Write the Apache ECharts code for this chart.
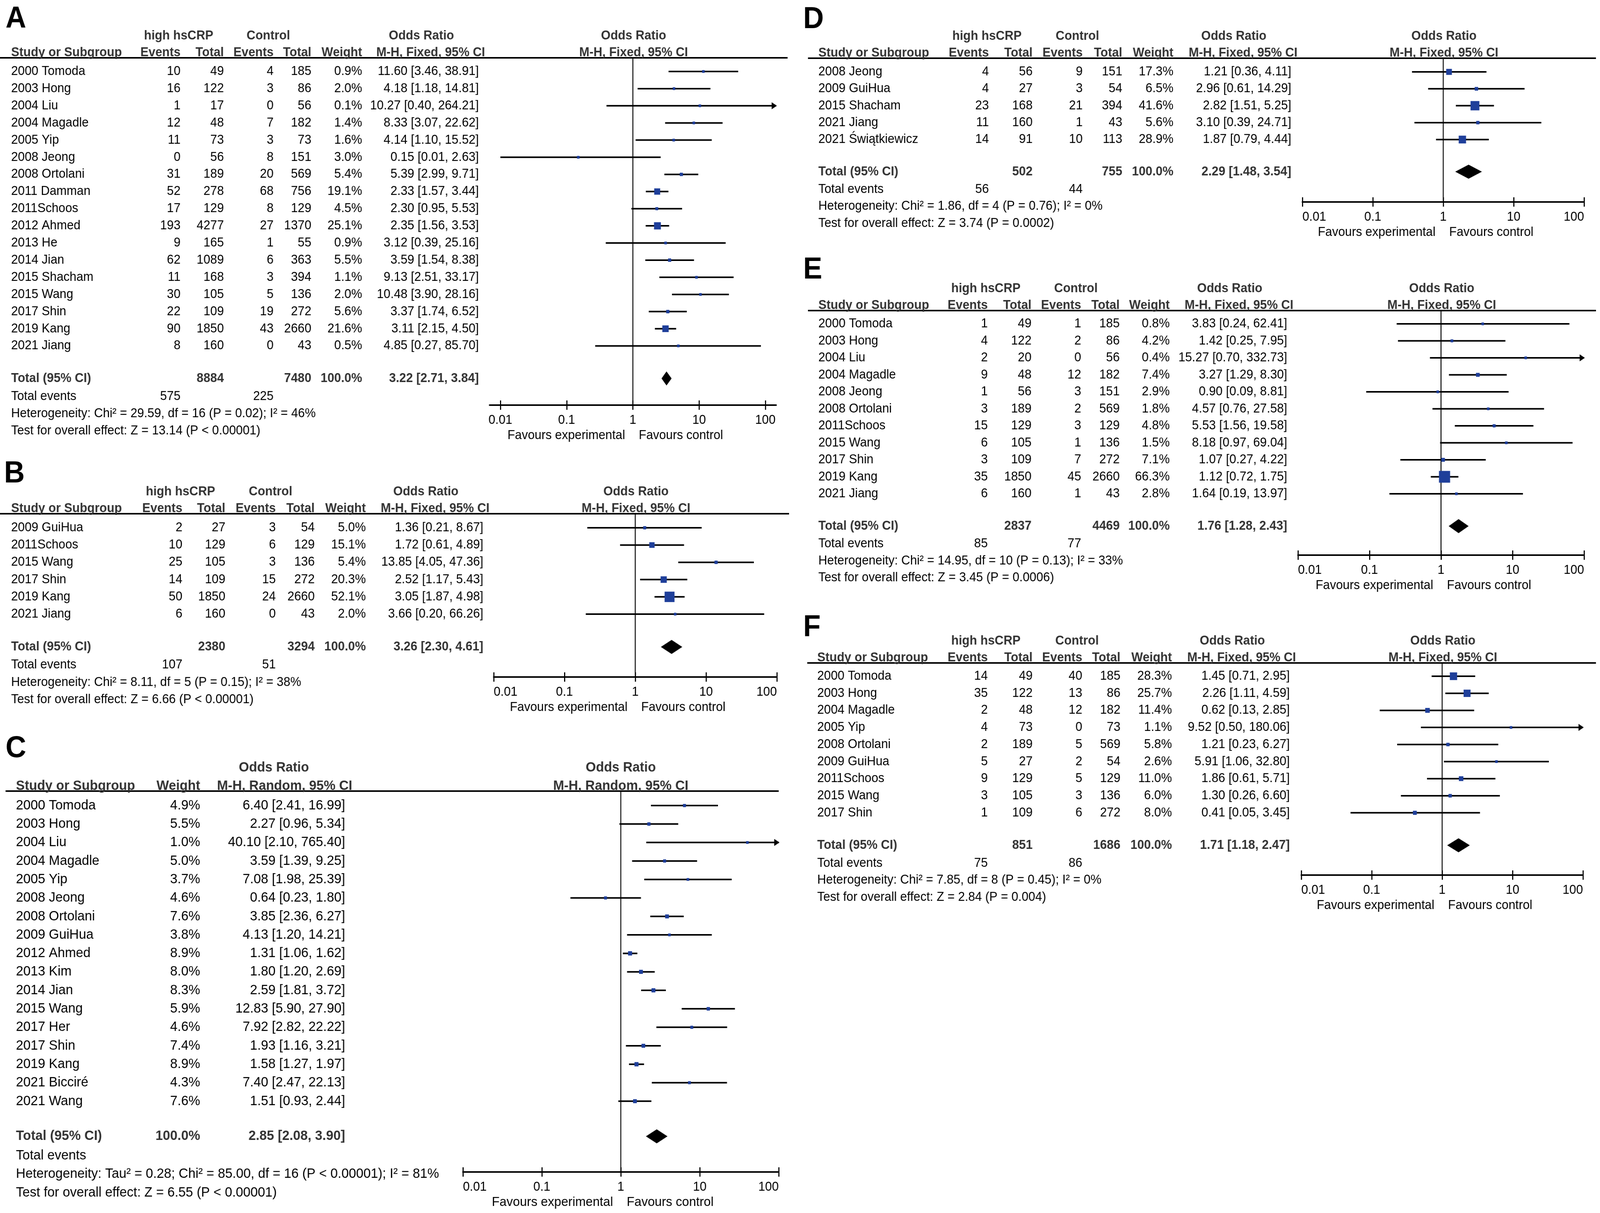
<!DOCTYPE html>
<html>
<head>
<meta charset="utf-8">
<script src="https://cdn.jsdelivr.net/npm/echarts@6/dist/echarts.min.js"></script>
<style>
html,body{margin:0;padding:0;background:#fff;overflow:hidden;}
#c{position:absolute;left:0;top:0;width:4317px;height:3105px;transform-origin:0 0;}
</style>
</head>
<body>
<div id="c"></div>
<script>
// ================= DATA =================
const tickValues = [0.01, 0.1, 1, 10, 100];
const tickLabels = ['0.01', '0.1', '1', '10', '100'];
const totalWeightLabel = '100.0%';

// ---- Panel A ----
const A_studies = ['2000 Tomoda','2003 Hong','2004 Liu','2004 Magadle','2005 Yip','2008 Jeong','2008 Ortolani','2011 Damman','2011Schoos','2012 Ahmed','2013 He','2014 Jian','2015 Shacham','2015 Wang','2017 Shin','2019 Kang','2021 Jiang'];
const A_ev1 = [10,16,1,12,11,0,31,52,17,193,9,62,11,30,22,90,8];
const A_tot1 = [49,122,17,48,73,56,189,278,129,4277,165,1089,168,105,109,1850,160];
const A_ev2 = [4,3,0,7,3,8,20,68,8,27,1,6,3,5,19,43,0];
const A_tot2 = [185,86,56,182,73,151,569,756,129,1370,55,363,394,136,272,2660,43];
const A_weight = [0.9,2.0,0.1,1.4,1.6,3.0,5.4,19.1,4.5,25.1,0.9,5.5,1.1,2.0,5.6,21.6,0.5];
const A_or = [11.60,4.18,10.27,8.33,4.14,0.15,5.39,2.33,2.30,2.35,3.12,3.59,9.13,10.48,3.37,3.11,4.85];
const A_lo = [3.46,1.18,0.40,3.07,1.10,0.01,2.99,1.57,0.95,1.56,0.39,1.54,2.51,3.90,1.74,2.15,0.27];
const A_hi = [38.91,14.81,264.21,22.62,15.52,2.63,9.71,3.44,5.53,3.53,25.16,8.38,33.17,28.16,6.52,4.50,85.70];
const A_totals = [8884, 7480];
const A_events = [575, 225];
const A_pooled = [3.22, 2.71, 3.84];
const A_het = 'Heterogeneity: Chi² = 29.59, df = 16 (P = 0.02); I² = 46%';
const A_test = 'Test for overall effect: Z = 13.14 (P < 0.00001)';

// ---- Panel B ----
const B_studies = ['2009 GuiHua','2011Schoos','2015 Wang','2017 Shin','2019 Kang','2021 Jiang'];
const B_ev1 = [2,10,25,14,50,6];
const B_tot1 = [27,129,105,109,1850,160];
const B_ev2 = [3,6,3,15,24,0];
const B_tot2 = [54,129,136,272,2660,43];
const B_weight = [5.0,15.1,5.4,20.3,52.1,2.0];
const B_or = [1.36,1.72,13.85,2.52,3.05,3.66];
const B_lo = [0.21,0.61,4.05,1.17,1.87,0.20];
const B_hi = [8.67,4.89,47.36,5.43,4.98,66.26];
const B_totals = [2380, 3294];
const B_events = [107, 51];
const B_pooled = [3.26, 2.30, 4.61];
const B_het = 'Heterogeneity: Chi² = 8.11, df = 5 (P = 0.15); I² = 38%';
const B_test = 'Test for overall effect: Z = 6.66 (P < 0.00001)';

// ---- Panel C ----
const C_studies = ['2000 Tomoda','2003 Hong','2004 Liu','2004 Magadle','2005 Yip','2008 Jeong','2008 Ortolani','2009 GuiHua','2012 Ahmed','2013 Kim','2014 Jian','2015 Wang','2017 Her','2017 Shin','2019 Kang','2021 Bicciré','2021 Wang'];
const C_weight = [4.9,5.5,1.0,5.0,3.7,4.6,7.6,3.8,8.9,8.0,8.3,5.9,4.6,7.4,8.9,4.3,7.6];
const C_or = [6.40,2.27,40.10,3.59,7.08,0.64,3.85,4.13,1.31,1.80,2.59,12.83,7.92,1.93,1.58,7.40,1.51];
const C_lo = [2.41,0.96,2.10,1.39,1.98,0.23,2.36,1.20,1.06,1.20,1.81,5.90,2.82,1.16,1.27,2.47,0.93];
const C_hi = [16.99,5.34,765.40,9.25,25.39,1.80,6.27,14.21,1.62,2.69,3.72,27.90,22.22,3.21,1.97,22.13,2.44];
const C_pooled = [2.85, 2.08, 3.90];
const C_het = 'Heterogeneity: Tau² = 0.28; Chi² = 85.00, df = 16 (P < 0.00001); I² = 81%';
const C_test = 'Test for overall effect: Z = 6.55 (P < 0.00001)';

// ---- Panel D ----
const D_studies = ['2008 Jeong','2009 GuiHua','2015 Shacham','2021 Jiang','2021 Świątkiewicz'];
const D_ev1 = [4,4,23,11,14];
const D_tot1 = [56,27,168,160,91];
const D_ev2 = [9,3,21,1,10];
const D_tot2 = [151,54,394,43,113];
const D_weight = [17.3,6.5,41.6,5.6,28.9];
const D_or = [1.21,2.96,2.82,3.10,1.87];
const D_lo = [0.36,0.61,1.51,0.39,0.79];
const D_hi = [4.11,14.29,5.25,24.71,4.44];
const D_totals = [502, 755];
const D_events = [56, 44];
const D_pooled = [2.29, 1.48, 3.54];
const D_het = 'Heterogeneity: Chi² = 1.86, df = 4 (P = 0.76); I² = 0%';
const D_test = 'Test for overall effect: Z = 3.74 (P = 0.0002)';

// ---- Panel E ----
const E_studies = ['2000 Tomoda','2003 Hong','2004 Liu','2004 Magadle','2008 Jeong','2008 Ortolani','2011Schoos','2015 Wang','2017 Shin','2019 Kang','2021 Jiang'];
const E_ev1 = [1,4,2,9,1,3,15,6,3,35,6];
const E_tot1 = [49,122,20,48,56,189,129,105,109,1850,160];
const E_ev2 = [1,2,0,12,3,2,3,1,7,45,1];
const E_tot2 = [185,86,56,182,151,569,129,136,272,2660,43];
const E_weight = [0.8,4.2,0.4,7.4,2.9,1.8,4.8,1.5,7.1,66.3,2.8];
const E_or = [3.83,1.42,15.27,3.27,0.90,4.57,5.53,8.18,1.07,1.12,1.64];
const E_lo = [0.24,0.25,0.70,1.29,0.09,0.76,1.56,0.97,0.27,0.72,0.19];
const E_hi = [62.41,7.95,332.73,8.30,8.81,27.58,19.58,69.04,4.22,1.75,13.97];
const E_totals = [2837, 4469];
const E_events = [85, 77];
const E_pooled = [1.76, 1.28, 2.43];
const E_het = 'Heterogeneity: Chi² = 14.95, df = 10 (P = 0.13); I² = 33%';
const E_test = 'Test for overall effect: Z = 3.45 (P = 0.0006)';

// ---- Panel F ----
const F_studies = ['2000 Tomoda','2003 Hong','2004 Magadle','2005 Yip','2008 Ortolani','2009 GuiHua','2011Schoos','2015 Wang','2017 Shin'];
const F_ev1 = [14,35,2,4,2,5,9,3,1];
const F_tot1 = [49,122,48,73,189,27,129,105,109];
const F_ev2 = [40,13,12,0,5,2,5,3,6];
const F_tot2 = [185,86,182,73,569,54,129,136,272];
const F_weight = [28.3,25.7,11.4,1.1,5.8,2.6,11.0,6.0,8.0];
const F_or = [1.45,2.26,0.62,9.52,1.21,5.91,1.86,1.30,0.41];
const F_lo = [0.71,1.11,0.13,0.50,0.23,1.06,0.61,0.26,0.05];
const F_hi = [2.95,4.59,2.85,180.06,6.27,32.80,5.71,6.60,3.45];
const F_totals = [851, 1686];
const F_events = [75, 86];
const F_pooled = [1.71, 1.18, 2.47];
const F_het = 'Heterogeneity: Chi² = 7.85, df = 8 (P = 0.45); I² = 0%';
const F_test = 'Test for overall effect: Z = 2.84 (P = 0.004)';

// ================= LAYOUT / STYLE =================
const PAGE_W = 4317, PAGE_H = 3105;
const FONT = '"Liberation Sans", Arial, Helvetica, sans-serif';
const BLUE = '#1f3f9a';
const HEAD = '#333';

const layouts = {
  A:{letter:[15,50], studyX:30, cols:[487,604,738,840,977,1292], lineY:148, lineX:[0,2125], y0:183, step:43.9, axisY:1037, x001:1350, x100:2065, pad:29, fs:33, h1:56},
  B:{letter:[11,1214], studyX:30, cols:[492,608,744,849,987,1304], lineY:1315, lineX:[0,2129], y0:1351, step:44.2, axisY:1733, x001:1332, x100:2096, pad:0, fs:33, h1:56},
  C:{letter:[15,1917], studyX:43, wtX:540, orX:931, lineY:2025, lineX:[15,2101], y0:2062, step:47.3, axisY:3000, x001:1249, x100:2101, pad:0, fs:35.5, h1:60},
  D:{letter:[2167,51], studyX:2208, cols:[2668,2786,2921,3028,3166,3484], lineY:149, lineX:[2180,4306], y0:184, step:43.3, axisY:517, x001:3514, x100:4274, pad:0, fs:33, h1:56},
  E:{letter:[2167,692], studyX:2208, cols:[2665,2783,2917,3021,3156,3473], lineY:795, lineX:[2180,4306], y0:829, step:43.5, axisY:1421, x001:3502, x100:4274, pad:0, fs:33, h1:56},
  F:{letter:[2167,1608], studyX:2205, cols:[2665,2786,2920,3023,3162,3480], lineY:1697, lineX:[2178,4306], y0:1731, step:43.7, axisY:2240, x001:3511, x100:4271, pad:0, fs:33, h1:56}
};

const panels = [
  {key:'A', kind:'fixed', studies:A_studies, ev1:A_ev1, tot1:A_tot1, ev2:A_ev2, tot2:A_tot2, weight:A_weight, or:A_or, lo:A_lo, hi:A_hi, totals:A_totals, events:A_events, pooled:A_pooled, het:A_het, test:A_test},
  {key:'B', kind:'fixed', studies:B_studies, ev1:B_ev1, tot1:B_tot1, ev2:B_ev2, tot2:B_tot2, weight:B_weight, or:B_or, lo:B_lo, hi:B_hi, totals:B_totals, events:B_events, pooled:B_pooled, het:B_het, test:B_test},
  {key:'C', kind:'random', studies:C_studies, weight:C_weight, or:C_or, lo:C_lo, hi:C_hi, pooled:C_pooled, het:C_het, test:C_test},
  {key:'D', kind:'fixed', studies:D_studies, ev1:D_ev1, tot1:D_tot1, ev2:D_ev2, tot2:D_tot2, weight:D_weight, or:D_or, lo:D_lo, hi:D_hi, totals:D_totals, events:D_events, pooled:D_pooled, het:D_het, test:D_test},
  {key:'E', kind:'fixed', studies:E_studies, ev1:E_ev1, tot1:E_tot1, ev2:E_ev2, tot2:E_tot2, weight:E_weight, or:E_or, lo:E_lo, hi:E_hi, totals:E_totals, events:E_events, pooled:E_pooled, het:E_het, test:E_test},
  {key:'F', kind:'fixed', studies:F_studies, ev1:F_ev1, tot1:F_tot1, ev2:F_ev2, tot2:F_tot2, weight:F_weight, or:F_or, lo:F_lo, hi:F_hi, totals:F_totals, events:F_events, pooled:F_pooled, het:F_het, test:F_test}
];

const TOTAL_GAP = 1.9;      // rows between last study and the Total row
const FOOT_OFFS = [1.05, 2.05, 3.05];

// fit the fixed-size figure into whatever viewport the page is opened in
(function fit() {
  let W = window.innerWidth || document.documentElement.clientWidth || PAGE_W;
  let H = window.innerHeight || document.documentElement.clientHeight || PAGE_H;
  if (W < 200) W = PAGE_W;
  if (H < 200) H = PAGE_H;
  document.getElementById('c').style.transform = 'scale(' + (W / PAGE_W) + ',' + (H / PAGE_H) + ')';
})();

// ================= HELPERS =================
function txt(x, y, s, align, bold, fs, color) {
  return {type:'text', silent:true, style:{x:x, y:y, text:String(s), align:align, verticalAlign:'middle',
    font:(bold ? 'bold ' : '') + fs + 'px ' + FONT, fill: color || (bold ? HEAD : '#000')}};
}
function fmtCI(o, l, h) { return o.toFixed(2) + ' [' + l.toFixed(2) + ', ' + h.toFixed(2) + ']'; }
function tickFmt(v) {
  let best = 0, bd = 1e9;
  tickValues.forEach((t, k) => { const d = Math.abs(Math.log10(t) - Math.log10(v)); if (d < bd) { bd = d; best = k; } });
  return tickLabels[best];
}

function rowRender(p, L) {
  return function (params, api) {
    const i = params.dataIndex;
    const cs = params.coordSys;
    const left = cs.x, right = cs.x + cs.width;
    const pt = api.coord([api.value(0), api.value(1)]);
    const y = pt[1];
    const xl = api.coord([api.value(2), api.value(1)])[0];
    const xh = api.coord([api.value(3), api.value(1)])[0];
    const fs = L.fs;
    const ch = [];
    ch.push(txt(L.studyX, y, p.studies[i], 'left', false, fs));
    if (p.kind === 'fixed') {
      ch.push(txt(L.cols[0], y, p.ev1[i], 'right', false, fs));
      ch.push(txt(L.cols[1], y, p.tot1[i], 'right', false, fs));
      ch.push(txt(L.cols[2], y, p.ev2[i], 'right', false, fs));
      ch.push(txt(L.cols[3], y, p.tot2[i], 'right', false, fs));
      ch.push(txt(L.cols[4], y, p.weight[i].toFixed(1) + '%', 'right', false, fs));
      ch.push(txt(L.cols[5], y, fmtCI(p.or[i], p.lo[i], p.hi[i]), 'right', false, fs));
    } else {
      ch.push(txt(L.wtX, y, p.weight[i].toFixed(1) + '%', 'right', false, fs));
      ch.push(txt(L.orX, y, fmtCI(p.or[i], p.lo[i], p.hi[i]), 'right', false, fs));
    }
    const x1 = Math.max(xl, left), x2 = Math.min(xh, right);
    ch.push({type:'line', silent:true, shape:{x1:x1, y1:y, x2:x2, y2:y}, style:{stroke:'#000', lineWidth:4}});
    if (xh > right) ch.push({type:'polygon', silent:true, shape:{points:[[right + 2, y], [right - 12, y - 9], [right - 12, y + 9]]}, style:{fill:'#000'}});
    if (xl < left) ch.push({type:'polygon', silent:true, shape:{points:[[left - 2, y], [left + 12, y - 9], [left + 12, y + 9]]}, style:{fill:'#000'}});
    const s = Math.max(7, 3.7 * Math.sqrt(api.value(4)));
    ch.push({type:'rect', silent:true, shape:{x:pt[0] - s / 2, y:y - s / 2, width:s, height:s}, style:{fill:BLUE}});
    return {type:'group', children:ch};
  };
}

function summaryRender(p, L) {
  return function (params, api) {
    const fs = L.fs;
    const tIdx = api.value(1);
    const c = api.coord([api.value(0), tIdx]);
    const y = c[1];
    const xl = api.coord([api.value(2), tIdx])[0];
    const xh = api.coord([api.value(3), tIdx])[0];
    const x1 = api.coord([1, tIdx])[0];
    const ch = [];
    ch.push({type:'text', silent:true, style:{x:L.letter[0], y:L.letter[1], text:p.key, align:'left', verticalAlign:'middle', font:'bold 77px ' + FONT, fill:'#000'}});
    ch.push({type:'line', silent:true, shape:{x1:L.lineX[0], y1:L.lineY, x2:L.lineX[1], y2:L.lineY}, style:{stroke:'#000', lineWidth:4}});
    ch.push({type:'line', silent:true, shape:{x1:x1, y1:L.lineY, x2:x1, y2:L.axisY}, style:{stroke:'#000', lineWidth:2.5}});
    const hy1 = L.lineY - L.h1, hy2 = L.lineY - 13;
    if (p.kind === 'fixed') {
      ch.push(txt(L.cols[0] - 5, hy1, 'high hsCRP', 'center', true, fs));
      ch.push(txt(L.cols[2] - 14, hy1, 'Control', 'center', true, fs));
      ch.push(txt(L.cols[5] - 155, hy1, 'Odds Ratio', 'center', true, fs));
      ch.push(txt(L.studyX, hy2, 'Study or Subgroup', 'left', true, fs));
      ch.push(txt(L.cols[0], hy2, 'Events', 'right', true, fs));
      ch.push(txt(L.cols[1], hy2, 'Total', 'right', true, fs));
      ch.push(txt(L.cols[2], hy2, 'Events', 'right', true, fs));
      ch.push(txt(L.cols[3], hy2, 'Total', 'right', true, fs));
      ch.push(txt(L.cols[4], hy2, 'Weight', 'right', true, fs));
      ch.push(txt(L.cols[5] - 130, hy2, 'M-H, Fixed, 95% CI', 'center', true, fs));
      ch.push(txt(x1 + 2, hy1, 'Odds Ratio', 'center', true, fs));
      ch.push(txt(x1 + 2, hy2, 'M-H, Fixed, 95% CI', 'center', true, fs));
      ch.push(txt(L.studyX, y, 'Total (95% CI)', 'left', true, fs));
      ch.push(txt(L.cols[1], y, p.totals[0], 'right', true, fs));
      ch.push(txt(L.cols[3], y, p.totals[1], 'right', true, fs));
      ch.push(txt(L.cols[4], y, totalWeightLabel, 'right', true, fs));
      ch.push(txt(L.cols[5], y, fmtCI(p.pooled[0], p.pooled[1], p.pooled[2]), 'right', true, fs));
      const ye = api.coord([1, tIdx + FOOT_OFFS[0]])[1];
      ch.push(txt(L.studyX, ye, 'Total events', 'left', false, fs));
      ch.push(txt(L.cols[0], ye, p.events[0], 'right', false, fs));
      ch.push(txt(L.cols[2], ye, p.events[1], 'right', false, fs));
    } else {
      ch.push(txt(L.orX - 192, hy1, 'Odds Ratio', 'center', true, fs));
      ch.push(txt(L.studyX, hy2, 'Study or Subgroup', 'left', true, fs));
      ch.push(txt(L.wtX, hy2, 'Weight', 'right', true, fs));
      ch.push(txt(L.orX - 163, hy2, 'M-H, Random, 95% CI', 'center', true, fs));
      ch.push(txt(x1, hy1, 'Odds Ratio', 'center', true, fs));
      ch.push(txt(x1, hy2, 'M-H, Random, 95% CI', 'center', true, fs));
      ch.push(txt(L.studyX, y, 'Total (95% CI)', 'left', true, fs));
      ch.push(txt(L.wtX, y, totalWeightLabel, 'right', true, fs));
      ch.push(txt(L.orX, y, fmtCI(p.pooled[0], p.pooled[1], p.pooled[2]), 'right', true, fs));
      const ye = api.coord([1, tIdx + FOOT_OFFS[0]])[1];
      ch.push(txt(L.studyX, ye, 'Total events', 'left', false, fs));
    }
    const yh = api.coord([1, tIdx + FOOT_OFFS[1]])[1];
    const yt = api.coord([1, tIdx + FOOT_OFFS[2]])[1];
    ch.push(txt(L.studyX, yh, p.het, 'left', false, fs));
    ch.push(txt(L.studyX, yt, p.test, 'left', false, fs));
    const fy = L.axisY + 78;
    const ffs = p.kind === 'fixed' ? 33 : 34;
    ch.push(txt(x1 - 21, fy, 'Favours experimental', 'right', false, ffs, '#000'));
    ch.push(txt(x1 + 16, fy, 'Favours control', 'left', false, ffs, '#000'));
    ch.push({type:'polygon', silent:true, shape:{points:[[xl, y], [c[0], y - 18], [xh, y], [c[0], y + 18]]}, style:{fill:'#000'}});
    return {type:'group', children:ch};
  };
}

// ================= OPTION =================
const grid = [], xAxis = [], yAxis = [], series = [];
panels.forEach((p, k) => {
  const L = layouts[p.key];
  const dec = (L.x100 - L.x001) / 4;
  const ext = L.pad / dec;
  grid.push({left:L.x001 - L.pad, top:L.lineY, width:(L.x100 - L.x001) + 2 * L.pad, height:L.axisY - L.lineY, containLabel:false, outerBoundsMode:'none'});
  const xmin = Math.pow(10, -2 - ext), xmax = Math.pow(10, 2 + ext);
  xAxis.push({
    type:'log', logBase:10, gridIndex:k, min:xmin, max:xmax, position:'bottom',
    axisLine:{show:true, onZero:false, lineStyle:{color:'#000', width:4}},
    axisTick:{show:true, customValues:tickValues, length:12, lineStyle:{color:'#000', width:3}},
    axisLabel:{show:true, customValues:tickValues, formatter:tickFmt, fontSize:33, fontFamily:FONT, color:'#000', margin:22, lineHeight:33,
      alignMinLabel: L.pad ? 'center' : 'left', alignMaxLabel: L.pad ? 'center' : 'right'},
    splitLine:{show:false}, minorTick:{show:false}, minorSplitLine:{show:false}
  });
  xAxis.push({
    type:'log', logBase:10, gridIndex:k, min:xmin, max:xmax, position:'bottom',
    axisLine:{show:false, onZero:false},
    axisTick:{show:true, inside:true, customValues:tickValues, length:12, lineStyle:{color:'#000', width:3}},
    axisLabel:{show:false}, splitLine:{show:false}
  });
  yAxis.push({type:'value', gridIndex:k, inverse:true, min:(L.lineY - L.y0) / L.step, max:(L.axisY - L.y0) / L.step, show:false, splitLine:{show:false}});
  const n = p.studies.length;
  series.push({
    type:'custom', name:p.key + '-pooled', xAxisIndex:2 * k, yAxisIndex:k, clip:false, silent:true, z:5,
    data:[[p.pooled[0], n - 1 + TOTAL_GAP, p.pooled[1], p.pooled[2]]],
    encode:{x:0, y:1}, renderItem:summaryRender(p, L)
  });
  series.push({
    type:'custom', name:p.key + '-studies', xAxisIndex:2 * k, yAxisIndex:k, clip:false, silent:true, z:10,
    data:p.studies.map((s, i) => [p.or[i], i, p.lo[i], p.hi[i], p.weight[i]]),
    encode:{x:0, y:1}, renderItem:rowRender(p, L)
  });
});

const chart = echarts.init(document.getElementById('c'), null, {renderer:'canvas', width:PAGE_W, height:PAGE_H});
chart.setOption({
  animation:false,
  backgroundColor:'#fff',
  textStyle:{fontFamily:FONT},
  grid:grid, xAxis:xAxis, yAxis:yAxis, series:series
});
</script>
</body>
</html>
